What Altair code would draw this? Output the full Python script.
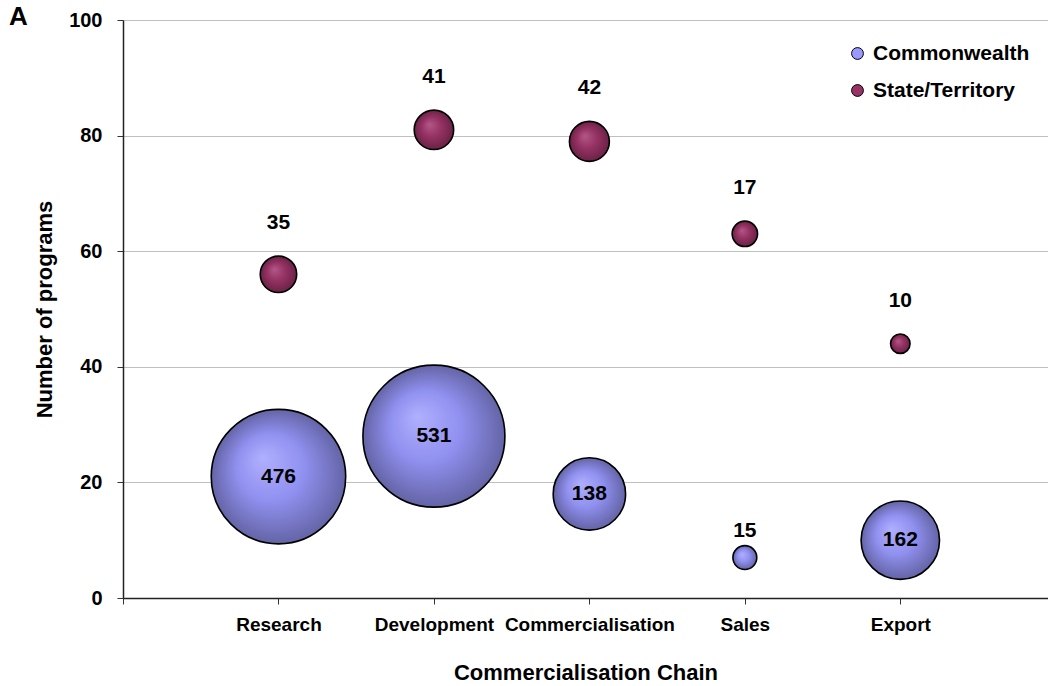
import math
import altair as alt
import pandas as pd

stages = ["Research", "Development", "Commercialisation", "Sales", "Export"]
stage_pos = [1, 2, 3, 4, 5]
cw_programs = [21, 28, 18, 7, 10]       # y position (number of programs)
cw_counts = [476, 531, 138, 15, 162]    # bubble size label
st_programs = [56, 81, 79, 63, 44]
st_counts = [35, 41, 42, 17, 10]
series_names = ["Commonwealth", "State/Territory"]

FONT = "Liberation Sans"
MAX_COUNT = 531
MAX_SIZE = 20164.0  # Vega symbol size: diameter = sqrt(size)
PLOT_H = 578
Y_MAX = 100


def radius(n):
    return math.sqrt(n / MAX_COUNT * MAX_SIZE) / 2.0


rows = []
for s, p, y, n in zip(stages, stage_pos, cw_programs, cw_counts):
    r = radius(n)
    off = 0.0 if r > 20 else (r + 15)
    rows.append(dict(stage=s, pos=p, programs=y, count=n, series=series_names[0],
                     label_y=y + off * Y_MAX / PLOT_H))
for s, p, y, n in zip(stages, stage_pos, st_programs, st_counts):
    r = radius(n)
    off = r + 33
    rows.append(dict(stage=s, pos=p, programs=y, count=n, series=series_names[1],
                     label_y=y + off * Y_MAX / PLOT_H))
df = pd.DataFrame(rows)

label_arr = "[''," + ",".join("'%s'" % s for s in stages) + "]"

x_enc = alt.X(
    "pos:Q",
    scale=alt.Scale(domain=[0, 5.95], nice=False, zero=True),
    axis=alt.Axis(
        values=[0] + stage_pos,
        labelExpr=label_arr + "[datum.value]",
        labelFontSize=19,
        title="Commercialisation Chain",
        grid=False,
        tickSize=6,
        labelPadding=11,
        titlePadding=28,
    ),
)
y_scale = alt.Scale(domain=[0, Y_MAX], nice=False)
y_enc = alt.Y(
    "programs:Q",
    scale=y_scale,
    axis=alt.Axis(
        values=[0, 20, 40, 60, 80, 100],
        labelFontSize=20,
        title="Number of programs",
        grid=True,
        gridColor="#c0c0c0",
        tickSize=6,
        labelPadding=15,
        titlePadding=12,
    ),
)
size_enc = alt.Size(
    "count:Q",
    scale=alt.Scale(domain=[0, MAX_COUNT], range=[0, MAX_SIZE], zero=True),
    legend=None,
)

base = alt.Chart(df).mark_circle(opacity=1, stroke=None).encode(
    x=x_enc,
    y=y_enc,
    size=size_enc,
    color=alt.Color(
        "series:N",
        scale=alt.Scale(domain=series_names, range=["#9999ff", "#993366"]),
        legend=alt.Legend(
            title=None,
            orient="none",
            legendX=724,
            legendY=23,
            padding=0,
            labelFont=FONT,
            labelFontWeight="bold",
            labelFontSize=21,
            labelColor="black",
            labelOffset=5,
            symbolType="circle",
            symbolSize=140,
            symbolStrokeColor="black",
            symbolStrokeWidth=1,
            symbolOpacity=1,
            rowPadding=15,
        ),
    ),
)

cw_grad = {
    "gradient": "radial",
    "x1": 0.38, "y1": 0.36, "r1": 0.0,
    "x2": 0.5, "y2": 0.5, "r2": 0.5,
    "stops": [
        {"offset": 0.0, "color": "#b0b0ff"},
        {"offset": 0.5, "color": "#9090f0"},
        {"offset": 1.0, "color": "#6464a6"},
    ],
}
st_grad = {
    "gradient": "radial",
    "x1": 0.38, "y1": 0.36, "r1": 0.0,
    "x2": 0.5, "y2": 0.5, "r2": 0.5,
    "stops": [
        {"offset": 0.0, "color": "#b25888"},
        {"offset": 0.5, "color": "#953263"},
        {"offset": 1.0, "color": "#6a2246"},
    ],
}

cw_layer = alt.Chart(df).transform_filter(
    alt.datum.series == series_names[0]
).mark_circle(opacity=1, fill=cw_grad, stroke="black", strokeWidth=1.6).encode(
    x="pos:Q", y="programs:Q", size="count:Q"
)
st_layer = alt.Chart(df).transform_filter(
    alt.datum.series == series_names[1]
).mark_circle(opacity=1, fill=st_grad, stroke="black", strokeWidth=1.6).encode(
    x="pos:Q", y="programs:Q", size="count:Q"
)

labels = alt.Chart(df).mark_text(
    font=FONT, fontWeight="bold", fontSize=21, color="black",
    align="center", baseline="middle",
).encode(
    x="pos:Q",
    y=alt.Y("label_y:Q", scale=y_scale),
    text="count:Q",
)

chart = alt.layer(base, cw_layer, st_layer, labels).properties(
    width=925,
    height=PLOT_H,
    autosize=alt.AutoSizeParams(type="none"),
    padding={"left": 123, "top": 20, "right": 0, "bottom": 88},
    title=alt.TitleParams(
        "A", anchor="start", frame="group", dx=-114, dy=20, offset=0,
        baseline="top", fontSize=26, font=FONT, fontWeight="bold", color="black",
    ),
).configure_view(stroke=None).configure_axis(
    labelFont=FONT,
    labelFontWeight="bold",
    labelColor="black",
    titleFont=FONT,
    titleFontWeight="bold",
    titleFontSize=22,
    titleColor="black",
    domainColor="#222222",
    domainWidth=1.5,
    tickColor="#333333",
    tickWidth=1,
).configure_title(anchor="start")

chart.save("out.html", embed_options={"renderer": "svg", "actions": False})
